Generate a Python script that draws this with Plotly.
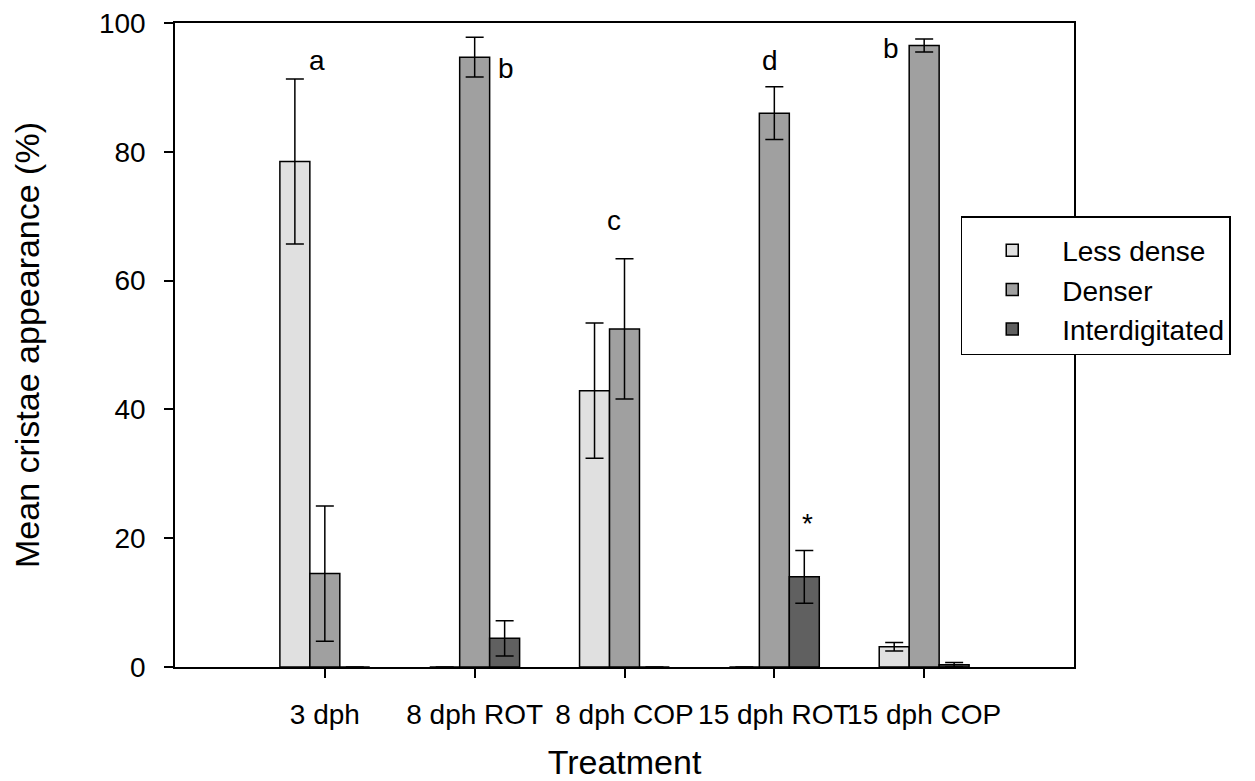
import plotly.graph_objects as go

categories = ["3 dph", "8 dph ROT", "8 dph COP", "15 dph ROT", "15 dph COP"]
series_names = ["Less dense", "Denser", "Interdigitated"]
less_dense = [78.5, 0, 42.9, 0, 3.15]
less_dense_err = [12.8, 0, 10.5, 0, 0.65]
denser = [14.5, 94.7, 52.5, 86.0, 96.5]
denser_err = [10.5, 3.1, 10.9, 4.1, 1.0]
interdig = [0, 4.45, 0, 14.0, 0.36]
interdig_err = [0, 2.75, 0, 4.1, 0.35]
colors = ["#e0e0e0", "#a0a0a0", "#606060"]

# significance letters: (x position in category units, y value, text)
letter_x = [-0.05, 1.21, 1.93, 2.97, 3.78, 3.22]
letter_y = [94.2, 93.0, 69.3, 94.2, 96.1, 22.3]
letter_text = ["a", "b", "c", "d", "b", "*"]

xpos = list(range(len(categories)))
fig = go.Figure()
for name, vals, errs, col in zip(series_names, [less_dense, denser, interdig],
                                  [less_dense_err, denser_err, interdig_err], colors):
    fig.add_trace(go.Bar(
        x=xpos, y=vals, name=name,
        marker=dict(color=col, line=dict(color="black", width=1.5)),
        error_y=dict(type="data", array=errs, visible=True, color="black",
                     thickness=1.5, width=9),
    ))

for lx, ly, lt in zip(letter_x, letter_y, letter_text):
    fig.add_annotation(x=lx, y=ly, text=lt, showarrow=False,
                       font=dict(size=28, color="black"), xref="x", yref="y")

font_family = "Liberation Sans, Arial, sans-serif"
fig.update_layout(
    width=1255, height=781,
    margin=dict(l=175, r=181, t=23, b=114, autoexpand=False),
    paper_bgcolor="white", plot_bgcolor="white",
    barmode="group", bargap=0.4, bargroupgap=0,
    font=dict(family=font_family, size=28, color="black"),
    showlegend=True,
    legend=dict(x=0.874, y=0.70, xanchor="left", yanchor="top",
                bordercolor="black", borderwidth=1.5, bgcolor="white",
                font=dict(size=28), tracegroupgap=0, itemwidth=90,
                title=dict(text=" ", font=dict(size=6))),
)
fig.update_xaxes(
    range=[-1, 5], tickvals=xpos, ticktext=categories, tickangle=0,
    showline=True, linecolor="black", linewidth=1.5, mirror=True,
    ticks="outside", ticklen=9, tickwidth=1.5, tickcolor="black",
    showgrid=False, zeroline=False, automargin=False,
    ticklabelstandoff=13,
    title=dict(text="Treatment", standoff=30),
)
fig.update_yaxes(
    range=[0, 100], tickvals=[0, 20, 40, 60, 80, 100],
    showline=True, linecolor="black", linewidth=1.5, mirror=True,
    ticks="outside", ticklen=9, tickwidth=1.5, tickcolor="black",
    showgrid=False, zeroline=False, automargin=False,
    ticklabelstandoff=13,
    title=dict(text="Mean cristae appearance (%)", standoff=49),
)
fig.write_html("out.html")
